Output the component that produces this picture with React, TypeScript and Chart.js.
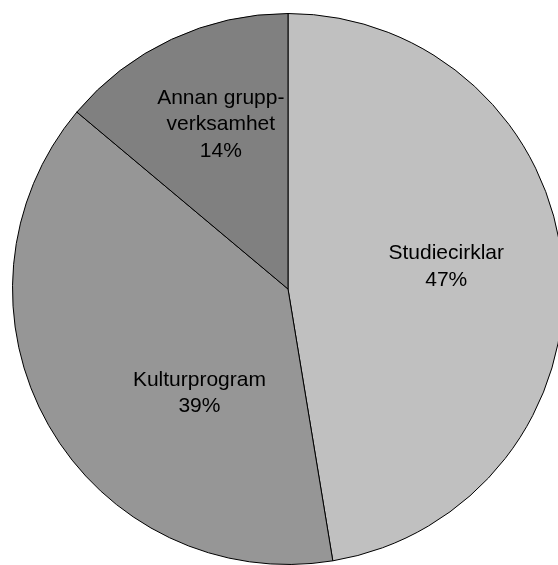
import React, { useEffect, useRef } from "react";
import { Chart, registerables } from "chart.js";

Chart.register(...registerables);

const categories = ["Studiecirklar", "Kulturprogram", "Annan gruppverksamhet"];
const labelLines = [["Studiecirklar"], ["Kulturprogram"], ["Annan grupp-", "verksamhet"]];
const shares = [47.4, 38.7, 13.9];
const percentLabels = ["47%", "39%", "14%"];
const sliceColors = ["#C0C0C0", "#969696", "#808080"];

// per-slice label placement relative to arc: radius fraction and angle offset (deg) from mid-angle
const labelPlacement = [
  { r: 0.58, dAngle: -3.3 },
  { r: 0.497, dAngle: -20 },
  { r: 0.645, dAngle: 2.8 },
];

const sliceLabelPlugin = {
  id: "sliceLabels",
  afterDatasetsDraw(chart: any) {
    const meta = chart.getDatasetMeta(0);
    const ctx = chart.ctx;
    ctx.save();
    ctx.font = '21px "Liberation Sans", Arial, sans-serif';
    ctx.fillStyle = "#000";
    ctx.textAlign = "center";
    ctx.textBaseline = "middle";
    const lineH = 26.5;
    meta.data.forEach((arc: any, i: number) => {
      const p = arc.getProps(["x", "y", "startAngle", "endAngle", "outerRadius"], true);
      const place = labelPlacement[i];
      const mid = (p.startAngle + p.endAngle) / 2 + (place.dAngle * Math.PI) / 180;
      const cx = p.x + Math.cos(mid) * p.outerRadius * place.r;
      const cy = p.y + Math.sin(mid) * p.outerRadius * place.r;
      const lines = [...labelLines[i], percentLabels[i]];
      const top = cy - ((lines.length - 1) * lineH) / 2;
      lines.forEach((ln, k) => ctx.fillText(ln, cx, top + k * lineH));
    });
    ctx.restore();
  },
};

export default function App() {
  const ref = useRef<HTMLCanvasElement | null>(null);
  useEffect(() => {
    if (!ref.current) return;
    const chart = new Chart(ref.current, {
      type: "pie",
      data: {
        labels: categories,
        datasets: [
          {
            data: shares,
            backgroundColor: sliceColors,
            borderColor: "#000000",
            borderWidth: 1,
          },
        ],
      },
      options: {
        responsive: false,
        animation: false,
        layout: { padding: 0 },
        plugins: {
          legend: { display: false },
          tooltip: { enabled: false },
          title: { display: false },
        },
      },
      plugins: [sliceLabelPlugin],
    });
    return () => chart.destroy();
  }, []);
  return (
    <div
      style={{
        position: "fixed",
        left: 0,
        top: 0,
        width: 558,
        height: 565,
        overflow: "hidden",
        background: "#fff",
      }}
    >
      <canvas
        ref={ref}
        width={552}
        height={552}
        style={{ position: "absolute", left: 12, top: 13, width: 552, height: 552 }}
      />
    </div>
  );
}
